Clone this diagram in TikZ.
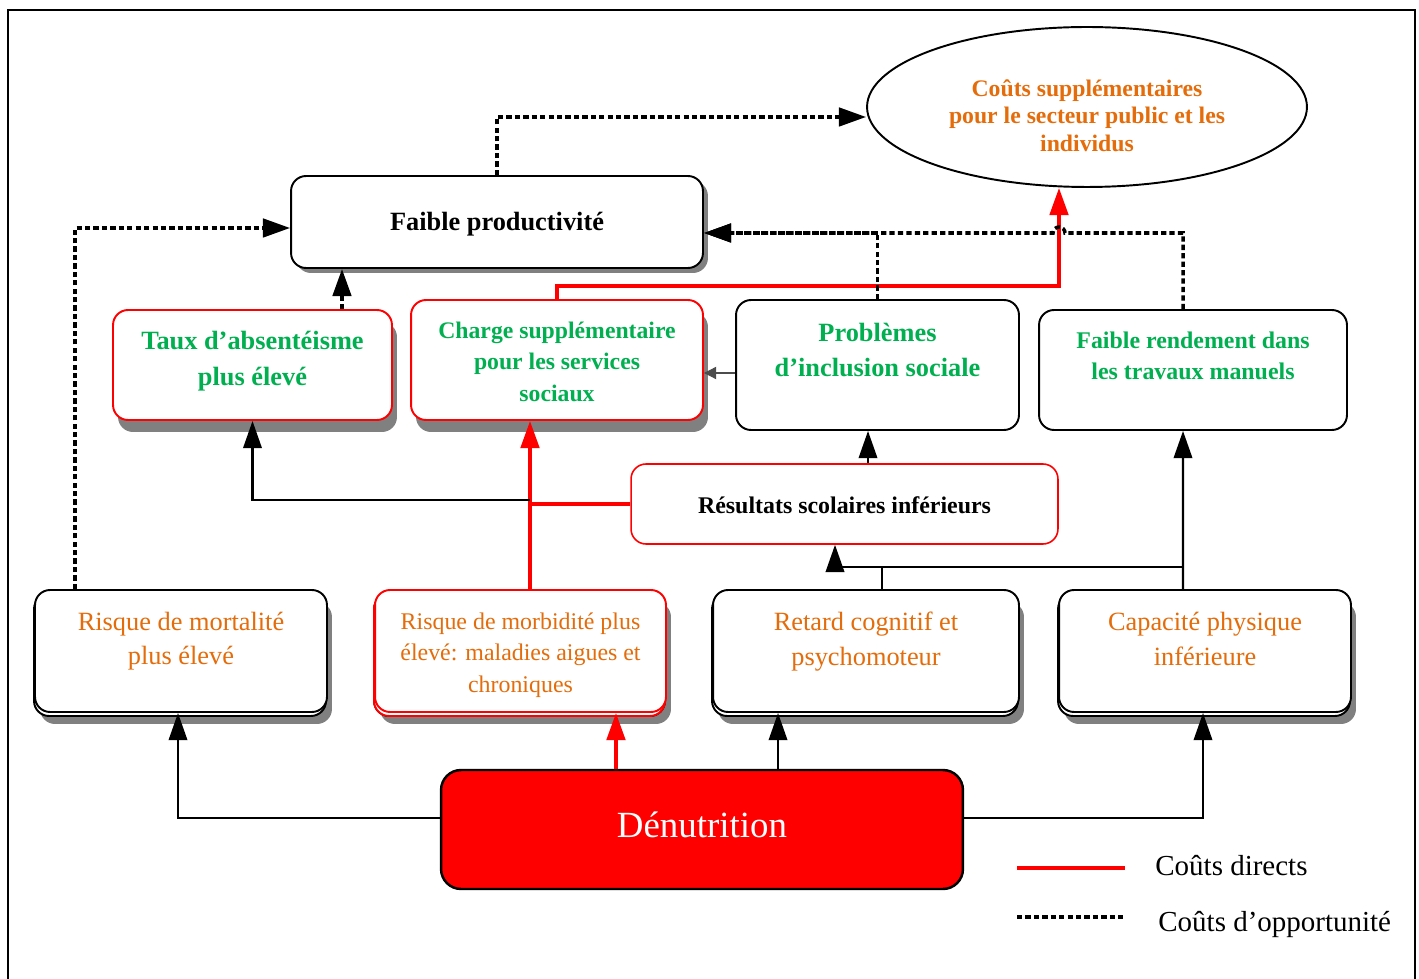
\documentclass[tikz,border=0pt]{standalone}
\usepackage{fontspec}
\setmainfont{Liberation Serif}
\usetikzlibrary{arrows.meta,shadows,shapes.geometric}

\definecolor{vert}{RGB}{0,176,80}
\definecolor{orangetxt}{RGB}{228,108,10}
\definecolor{ombregris}{RGB}{128,128,128}

\newcommand{\txtsize}[2]{\fontsize{#1}{#2}\selectfont}
\newcommand{\lignes}[1]{\begin{tabular}{@{}c@{}}#1\end{tabular}}

\begin{document}
\begin{tikzpicture}[x=0.02cm, y=-0.02cm,
    >={Triangle[length=15.5pt,width=10.5pt]},
    box/.style={draw, line width=1.1pt, rounded corners=0.3cm, fill=white, inner sep=0pt},
    ombre/.style={drop shadow={shadow xshift=0.1cm, shadow yshift=-0.24cm, fill=ombregris, opacity=1}},
    doublebord/.style={general shadow={shadow xshift=-0.02cm, shadow yshift=-0.08cm,
        fill=white, draw=#1, line width=1.1pt}},
    haut/.style={box, font=\bfseries\txtsize{15}{20.4}, text=vert},
    bas/.style={box, ombre, doublebord=black, minimum height=2.44cm, text=orangetxt,
        font=\txtsize{15}{19.8}},
    link/.style={->, line width=1.3pt},
    direct/.style={->, red, line width=2.1pt},
    opp/.style={->, line width=2pt, dash pattern=on 3pt off 1.8pt},
    petit/.style={-{Triangle[length=7pt,width=7pt]}, line width=0.6pt, black!70}]

  \useasboundingbox (0,0) rectangle (1419,979);
  \draw[line width=1.1pt] (8,979) |- (1415,10) -- (1415,979);

  % couts (haut)
  \node[ellipse, draw, line width=1.1pt, minimum width=8.8cm, minimum height=3.2cm, inner sep=0pt,
        font=\bfseries\txtsize{13.5}{15.6}, text=orangetxt] (cout) at (1087,107)
    {\lignes{Coûts supplémentaires\\pour le secteur public et les\\individus\\[-13pt]}};
  \node[box, drop shadow={shadow xshift=0.1cm, shadow yshift=-0.1cm, fill=ombregris, opacity=1},
        minimum width=8.24cm, minimum height=1.84cm, font=\bfseries\txtsize{15}{18}] (prod) at (497,222)
    {\lignes{Faible productivité\\[-3pt]}};

  % consequences
  \node[haut, ombre, draw=red, minimum width=5.58cm, minimum height=2.2cm] (absent) at (252.5,365)
    {\lignes{Taux d’absentéisme\\plus élevé\\[5pt]}};
  \node[haut, ombre, draw=red, minimum width=5.84cm, minimum height=2.4cm,
        font=\bfseries\txtsize{13.5}{17.9}] (charge) at (557,360)
    {\lignes{Charge supplémentaire\\pour les services\\sociaux\\[-4pt]}};
  \node[haut, minimum width=5.66cm, minimum height=2.6cm] (inclus) at (877.5,365)
    {\lignes{Problèmes\\d’inclusion sociale\\[15pt]}};
  \node[haut, minimum width=6.16cm, minimum height=2.4cm,
        font=\bfseries\txtsize{13.6}{18}] (manuel) at (1193,370)
    {\lignes{Faible rendement dans\\les travaux manuels\\[14pt]}};
  \node[box, draw=red, line width=0.9pt, minimum width=8.54cm, minimum height=1.6cm,
        font=\bfseries\txtsize{13.6}{16}] (scol) at (844.5,504)
    {\lignes{Résultats scolaires inférieurs\\[-4pt]}};

  % effets directs
  \node[bas, minimum width=5.84cm] (mort) at (181,651)
    {\lignes{Risque de mortalité\\plus élevé\\[12pt]}};
  \node[bas, draw=red, doublebord=red, minimum width=5.82cm,
        font=\txtsize{13.6}{18}] (morb) at (520.5,651)
    {\lignes{Risque de morbidité plus\\élevé: maladies aigues et\\chroniques\\[-4pt]}};
  \node[bas, minimum width=6.12cm] (retard) at (866,651)
    {\lignes{Retard cognitif et\\psychomoteur\\[11pt]}};
  \node[bas, minimum width=5.84cm] (physique) at (1205,651)
    {\lignes{Capacité physique\\inférieure\\[11pt]}};

  % cause
  \node[draw, fill=red, line width=1.4pt, rounded corners=0.4cm, inner sep=0pt,
        minimum width=10.44cm, minimum height=2.38cm, text=white,
        font=\txtsize{21}{25}] (denut) at (702,829.5)
    {\lignes{Dénutrition\\[1pt]}};

  \coordinate (bus) at ([yshift=-0.22cm]prod.east);
  \coordinate (rise) at ([xshift=-0.56cm]cout.south);

  % couts directs
  \draw[direct] (charge.north) -- ++(0,-13) -| (rise);
  \draw[direct] ([xshift=0.19cm]morb.north) -- ([xshift=0.19cm]morb.north |- charge.south);
  \draw[direct, -] (scol.west) -- ([xshift=0.19cm]morb.north |- scol.west);
  \draw[direct] ([xshift=1.91cm]morb.south |- denut.north) -- ([xshift=1.91cm]morb.south);

  % couts d'opportunite
  \draw[opp] (prod.north) |- ([yshift=-0.2cm]cout.west);
  \draw[opp] ([xshift=-2.12cm]mort.north) |- ([yshift=-0.12cm]prod.west);
  \draw[opp] ([xshift=1.79cm]absent.north) -- ([xshift=1.79cm]absent.north |- prod.south);
  \draw[opp] (inclus.north) |- (bus);
  \draw[opp] ([xshift=-0.2cm]manuel.north) |- ([xshift=0.12cm]rise |- bus)
    arc[start angle=0, end angle=180, radius=0.12cm] -- (bus);

  % liens
  \draw[petit] ([yshift=-0.16cm]inclus.west) -- ([yshift=-0.16cm]inclus.west -| charge.east);
  \draw[link] ([xshift=0.19cm, yshift=0.08cm]morb.north |- scol.west) -| (absent.south);
  \draw[link] ([xshift=-0.19cm]inclus.south |- scol.north) -- ([xshift=-0.19cm]inclus.south);
  \draw[link] ([xshift=-0.44cm]physique.north) -- ([xshift=-0.2cm]manuel.south);
  \draw[link] ([xshift=-0.44cm]physique.north) -- ++(0,-22) -| ([xshift=-0.19cm]scol.south);
  \draw[link, -] ([xshift=0.32cm]retard.north) -- ++(0,-22);
  \draw[link] ([yshift=0.23cm]denut.west) -| ([xshift=-0.06cm]mort.south);
  \draw[link] ([xshift=-1.76cm]retard.south |- denut.north) -- ([xshift=-1.76cm]retard.south);
  \draw[link] ([yshift=0.23cm]denut.east) -| ([xshift=-0.04cm]physique.south);

  % legende
  \coordinate (ld1) at (1017,868);
  \coordinate (ld2) at (1125,868);
  \coordinate (lo1) at (1017,917);
  \coordinate (lo2) at (1125,917);
  \draw[red, line width=2pt] (ld1) -- (ld2);
  \draw[line width=2pt, dash pattern=on 3pt off 1.8pt] (lo1) -- (lo2);
  \node[anchor=west, inner sep=0pt, font=\txtsize{16.5}{20}] (tdirect) at (1155,866) {Coûts directs};
  \node[anchor=west, inner sep=0pt, font=\txtsize{16.5}{20}] (topp) at (1158,924) {Coûts d’opportunité};

\end{tikzpicture}
\end{document}
